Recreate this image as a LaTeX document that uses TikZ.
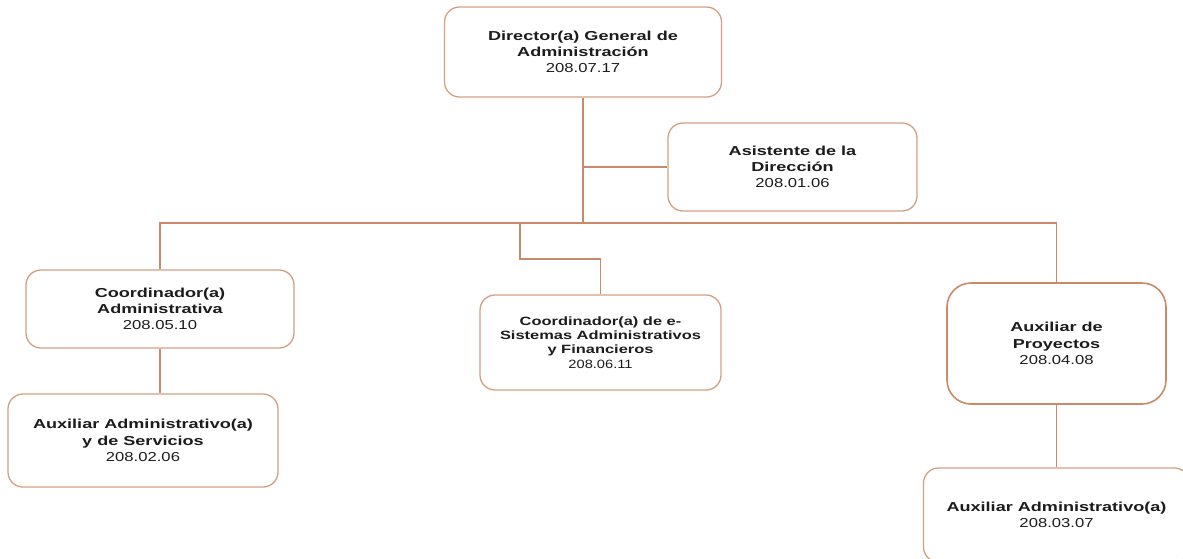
\documentclass[tikz,border=0pt]{standalone}
\usepackage{fontspec}
\setmainfont{Liberation Sans}
% wide, stretched sans faces for the post titles and codes
\newfontfamily\namefont{Liberation Sans}[FakeStretch=1.39]
\newfontfamily\codefont{Liberation Sans}[FakeStretch=1.28]
\newfontfamily\namefontsm{Liberation Sans}[FakeStretch=1.37]
\newfontfamily\codefontsm{Liberation Sans}[FakeStretch=1.22]
\newcommand\postname{\namefont\bfseries}
\newcommand\postcode{\codefont\mdseries}
\newcommand\postnamesm{\namefontsm\bfseries}
\newcommand\postcodesm{\codefontsm\mdseries}
\definecolor{boxc}{RGB}{212,160,132}
\definecolor{linkc}{RGB}{200,138,104}
\definecolor{ink}{RGB}{28,28,28}
\begin{document}
\begin{tikzpicture}[x=1pt,y=-1pt,
  post/.style={draw=boxc, line width=1.3pt, rounded corners=15pt, fill=white,
    align=center, inner sep=0pt, text=ink,
    font=\fontsize{13}{16.3}\selectfont},
  postsm/.style={post, font=\fontsize{12}{14.2}\selectfont},
  link/.style={draw=linkc, line width=1.3pt}]
\clip (0,0) rectangle (1183,558);
\fill[white] (0,0) rectangle (1183,558);

% posts
\node[post, minimum width=277pt, minimum height=90pt] (dir) at (583,52)
  {\postname Director(a) General de\\\postname Administración\\\postcode 208.07.17};
\node[post, minimum width=249pt, minimum height=88pt] (asis) at (792.5,167)
  {\postname Asistente de la\\\postname Dirección\\\postcode 208.01.06};
\node[post, minimum width=268pt, minimum height=78pt] (coordA) at (160,309)
  {\postname Coordinador(a)\\\postname Administrativa\\\postcode 208.05.10};
\node[post, minimum width=270pt, minimum height=93pt] (auxA) at (143,440.5)
  {\postname Auxiliar Administrativo(a)\\\postname y de Servicios\\\postcode 208.02.06};
\node[postsm, minimum width=241pt, minimum height=95pt] (esys) at (600.5,342.5)
  {\postnamesm Coordinador(a) de e-\\\postnamesm Sistemas Administrativos\\\postnamesm y Financieros\\\postcodesm 208.06.11};
\node[post, draw=linkc, line width=1.6pt, rounded corners=24pt,
  minimum width=219pt, minimum height=121pt] (proy) at (1056.5,343.5)
  {\postname Auxiliar de\\\postname Proyectos\\\postcode 208.04.08};
\node[post, minimum width=266pt, minimum height=94pt] (auxP) at (1056.5,515)
  {\postname Auxiliar Administrativo(a)\\\postcode 208.03.07};

% junction points of the connector bus
\coordinate (busL) at (160,223);
\coordinate (busR) at (1056.5,223);
\coordinate (eknee) at (520,259);

% connectors
\draw[link] (dir.south) -- (dir.south |- busL);
\draw[link] (asis.west) -- (asis.west -| dir.south);
\draw[link] (coordA.north) -- (busL) -- (busR) -- (proy.north);
\draw[link] (eknee |- busL) -- (eknee) -| (esys.north);
\draw[link] (coordA.south) -- (coordA.south |- auxA.north);
\draw[link] (proy.south) -- (proy.south |- auxP.north);
\end{tikzpicture}
\end{document}
